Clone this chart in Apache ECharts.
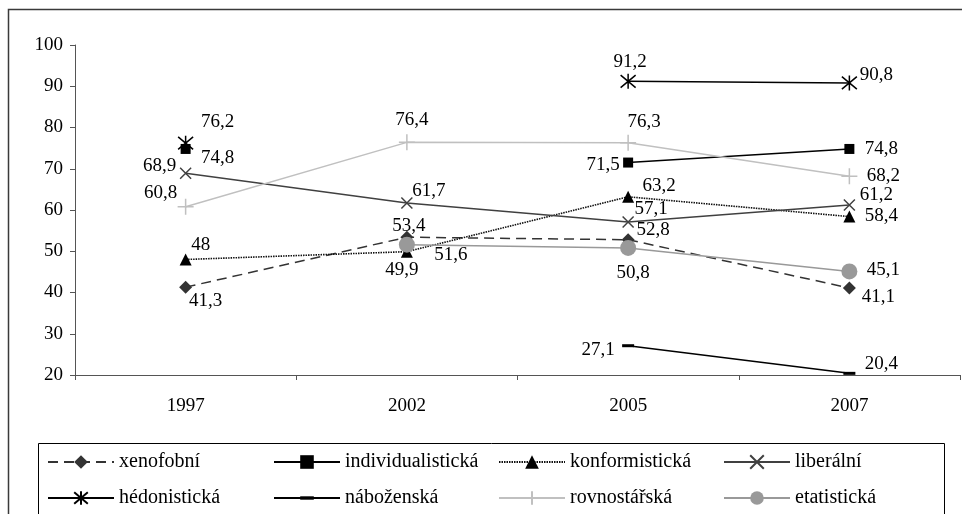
<!DOCTYPE html>
<html>
<head>
<meta charset="utf-8">
<script src="https://cdn.jsdelivr.net/npm/echarts@6/dist/echarts.min.js"></script>
<style>
html,body{margin:0;padding:0;background:#fff;}
#chart{width:962px;height:514px;}
</style>
</head>
<body>
<div id="chart"></div>
<script>
// ---- data ----
const categories = ['1997', '2002', '2005', '2007'];
const seriesNames = ['xenofobní', 'individualistická', 'konformistická', 'liberální',
                     'hédonistická', 'náboženská', 'rovnostářská', 'etatistická'];
const xenofobni         = [41.3, 53.4, 52.8, 41.1];
const individualisticka = [74.8, null, 71.5, 74.8];
const konformisticka    = [48, 49.9, 63.2, 58.4];
const liberalni         = [68.9, 61.7, 57.1, 61.2];
const hedonisticka      = [76.2, null, 91.2, 90.8];
const nabozenska        = [null, null, 27.1, 20.4];
const rovnostarska      = [60.8, 76.4, 76.3, 68.2];
const etatisticka       = [null, 51.6, 50.8, 45.1];
const yMin = 20, yMax = 100, yStep = 10;

// ---- label placement (style only) ----
const offsets = {
  xen: [[20, 14], [2, -11], [25, -10], [29, 9]],
  ind: [[32, 9], null, [-25, 2], [32, 0]],
  kon: [[15, -14], [-5, 18], [31, -11], [32, -1]],
  lib: [[-26, -7], [22, -12], [23, -13], [27, -10]],
  hed: [[32, -21], null, [2, -19], [27, -8]],
  nab: [null, null, [-30, 4], [32, -9]],
  rov: [[-25, -14], [5, -22], [16, -21], [34, 0]],
  eta: [null, [44, 10], [5, 25], [34, -1]]
};

const FONT = 'Liberation Serif, DejaVu Serif, serif';

function build(values, off) {
  return values.map((v, i) => v == null ? '-' : { value: v, label: { offset: off[i] } });
}
const labelBase = {
  show: true,
  position: 'inside',
  color: '#000',
  fontFamily: FONT,
  fontSize: 19,
  textBorderWidth: 0,
  textBorderColor: 'transparent',
  formatter: p => String(p.value).replace('.', ',')
};

const X_PATH = 'path://M0,0L10,10M10,0L0,10';
const STAR_PATH = 'path://M0,0L10,10M10,0L0,10M5,-1L5,11';
const PLUS_PATH = 'path://M5,0L5,10M0,5L10,5';
const DASH_PATH = 'path://M0,-4.5L0,-4.5M0,0L12,0L12,3L0,3ZM12,7.5L12,7.5';

const series = [
  { name: seriesNames[0], data: build(xenofobni, offsets.xen), color: '#333333',
    lineStyle: { color: '#333333', width: 1.5, type: [10, 6] },
    symbol: 'diamond', symbolSize: 13, itemStyle: { color: '#333333' } },
  { name: seriesNames[1], data: build(individualisticka, offsets.ind), color: '#000',
    lineStyle: { color: '#000', width: 1.5 },
    symbol: 'rect', symbolSize: 10, itemStyle: { color: '#000' } },
  { name: seriesNames[2], data: build(konformisticka, offsets.kon), color: '#000',
    lineStyle: { color: '#111', width: 1.6, type: [1.5, 1] },
    symbol: 'triangle', symbolSize: 12, itemStyle: { color: '#000' } },
  { name: seriesNames[3], data: build(liberalni, offsets.lib), color: '#404040',
    lineStyle: { color: '#404040', width: 1.5 },
    symbol: X_PATH, symbolSize: 11, itemStyle: { color: '#404040', borderColor: '#404040', borderWidth: 1.5 } },
  { name: seriesNames[4], data: build(hedonisticka, offsets.hed), color: '#000',
    lineStyle: { color: '#000', width: 1.5 },
    symbol: STAR_PATH, symbolSize: 15, itemStyle: { color: '#000', borderColor: '#000', borderWidth: 1.5 } },
  { name: seriesNames[5], data: build(nabozenska, offsets.nab), color: '#000',
    lineStyle: { color: '#000', width: 1.5 },
    symbol: DASH_PATH, symbolSize: 12, itemStyle: { color: '#000' } },
  { name: seriesNames[6], data: build(rovnostarska, offsets.rov), color: '#c0c0c0',
    lineStyle: { color: '#c0c0c0', width: 1.5 },
    symbol: PLUS_PATH, symbolSize: 16, itemStyle: { color: '#c0c0c0', borderColor: '#c0c0c0', borderWidth: 1.5 } },
  { name: seriesNames[7], data: build(etatisticka, offsets.eta), color: '#999999',
    lineStyle: { color: '#999999', width: 1.5 },
    symbol: 'circle', symbolSize: 16, itemStyle: { color: '#999999' } }
].map(s => Object.assign({
  type: 'line', showSymbol: true, showAllSymbol: true, connectNulls: false,
  animation: false, label: labelBase, emphasis: { disabled: true }
}, s));

// legend: 4 columns x 2 rows
const legendCols = [47, 273, 498, 723];
const legendRows = [452, 488];
const legends = seriesNames.map((n, i) => ({
  data: [n],
  left: legendCols[i % 4],
  top: legendRows[Math.floor(i / 4)],
  padding: 0,
  itemWidth: 66,
  itemHeight: 17,
  itemGap: 0,
  selectedMode: false,
  textStyle: { fontFamily: FONT, fontSize: 20, color: '#000' }
}));

const chart = echarts.init(document.getElementById('chart'), null, { renderer: 'canvas' });
chart.setOption({
  backgroundColor: '#fff',
  animation: false,
  grid: { left: 75, top: 45, right: 2, bottom: 139 },
  graphic: [
    { type: 'rect', shape: { x: 8.5, y: 9.5, width: 1200, height: 800 },
      style: { fill: 'none', stroke: '#3a3a3a', lineWidth: 1.5 }, z: -10, silent: true },
    { type: 'rect', shape: { x: 38.5, y: 443.5, width: 906, height: 200 },
      style: { fill: 'none', stroke: '#000', lineWidth: 1 }, z: -9, silent: true }
  ],
  legend: legends,
  xAxis: {
    type: 'category',
    data: categories,
    boundaryGap: true,
    axisLine: { lineStyle: { color: '#555', width: 1 } },
    axisTick: { show: true, length: 5, lineStyle: { color: '#555' } },
    axisLabel: { fontFamily: FONT, fontSize: 19, color: '#000', margin: 22 },
    splitLine: { show: false }
  },
  yAxis: {
    type: 'value',
    min: yMin, max: yMax, interval: yStep,
    axisLine: { show: true, lineStyle: { color: '#555', width: 1 } },
    axisTick: { show: true, length: 5, lineStyle: { color: '#555' } },
    axisLabel: { fontFamily: FONT, fontSize: 19, color: '#000', margin: 12 },
    splitLine: { show: false }
  },
  series: series
});
</script>
</body>
</html>
